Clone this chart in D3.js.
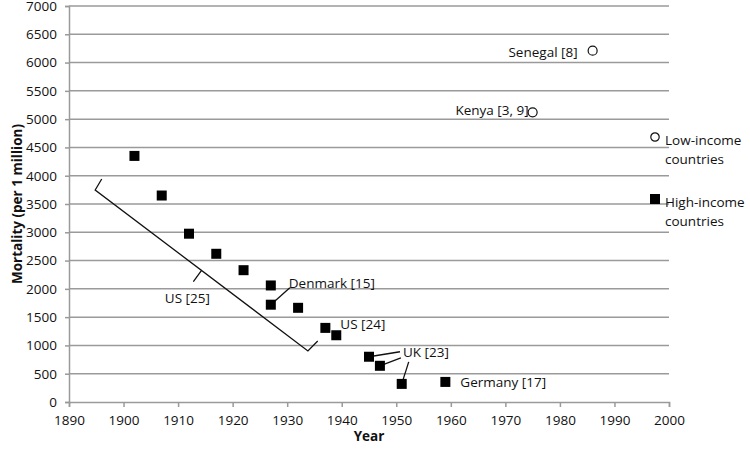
<!DOCTYPE html>
<html>
<head>
<meta charset="utf-8">
<script src="https://cdn.jsdelivr.net/npm/d3@7"></script>
<style>
  html, body { margin: 0; padding: 0; background: #fff; }
  svg text { font-family: "Open Sans", "Liberation Sans", sans-serif; fill: #111; }
</style>
</head>
<body>
<svg id="chart" width="750" height="453"></svg>
<script>
// ---- Data ----
const highYears  = [1902, 1907, 1912, 1917, 1922, 1927, 1927, 1932, 1937, 1939, 1945, 1947, 1951, 1959];
const highValues = [4350, 3650, 2975, 2620, 2330, 2060, 1720, 1665, 1310, 1180, 800, 640, 320, 355];
const lowYears   = [1975, 1986];
const lowValues  = [5120, 6210];
const xTicks = [1890, 1900, 1910, 1920, 1930, 1940, 1950, 1960, 1970, 1980, 1990, 2000];
const yTicks = [0, 500, 1000, 1500, 2000, 2500, 3000, 3500, 4000, 4500, 5000, 5500, 6000, 6500, 7000];
const legendLabels = [["Low-income", "countries"], ["High-income", "countries"]];
// bracket for US [25] (year, value)
const bracketYears  = [1896.0, 1894.8, 1914.3, 1912.8, 1914.3, 1933.8, 1935.6];
const bracketValues = [3942, 3748, 2325, 2127, 2325, 902, 1078];

(function () {
const svg = d3.select("#chart");
const pl = 69, pr = 669, pt = 6, pb = 402;
const x = d3.scaleLinear().domain([1890, 2000]).range([pl, pr]);
const y = d3.scaleLinear().domain([0, 7000]).range([pb, pt]);
const gridColor = "#9a9a9a";
const fs = 13.5;

// gridlines
svg.append("g").selectAll("line").data(yTicks.filter(v => v > 0)).join("line")
  .attr("x1", pl).attr("x2", pr)
  .attr("y1", d => y(d)).attr("y2", d => y(d))
  .attr("stroke", gridColor).attr("stroke-width", 1.5);

// y axis
const yAxis = svg.append("g").attr("transform", `translate(${pl},0)`)
  .call(d3.axisLeft(y).tickValues(yTicks).tickSize(4).tickPadding(8).tickFormat(d3.format("d")));
yAxis.select(".domain").attr("stroke", gridColor).attr("stroke-width", 1.5);
yAxis.selectAll(".tick line").attr("stroke", gridColor).attr("stroke-width", 1.5);
yAxis.selectAll("text").attr("font-size", fs).attr("font-family", "Open Sans").attr("fill", "#111");

// x axis
const xAxis = svg.append("g").attr("transform", `translate(0,${pb})`)
  .call(d3.axisBottom(x).tickValues(xTicks).tickSize(5).tickPadding(8).tickFormat(d3.format("d")));
xAxis.select(".domain").attr("stroke", gridColor).attr("stroke-width", 1.5);
xAxis.selectAll(".tick line").attr("stroke", gridColor).attr("stroke-width", 1.5);
xAxis.selectAll("text").attr("font-size", fs).attr("font-family", "Open Sans").attr("fill", "#111");

// axis titles
svg.append("text").attr("x", (pl + pr) / 2).attr("y", 441).attr("text-anchor", "middle")
  .attr("font-size", fs).attr("font-weight", "bold").text("Year");
svg.append("text").attr("transform", `translate(22,${(pt + pb) / 2}) rotate(-90)`)
  .attr("text-anchor", "middle").attr("font-size", fs).attr("font-weight", "bold")
  .text("Mortality (per 1 million)");

// bracket
const bracketPts = bracketYears.map((yr, i) => [x(yr), y(bracketValues[i])]);
svg.append("path").attr("d", d3.line()(bracketPts))
  .attr("fill", "none").attr("stroke", "#111").attr("stroke-width", 1.3);

// leader lines
const high = highYears.map((yr, i) => ({ px: x(yr), py: y(highValues[i]) }));
const leaders = [
  [high[6], 19, -17],   // Denmark
  [high[10], 31, -5],   // UK
  [high[11], 21, -8],   // UK
  [high[12], 7, -22]    // UK
];
svg.append("g").selectAll("line").data(leaders).join("line")
  .attr("x1", d => d[0].px).attr("y1", d => d[0].py)
  .attr("x2", d => d[0].px + d[1]).attr("y2", d => d[0].py + d[2])
  .attr("stroke", "#111").attr("stroke-width", 1.3);

// high-income squares
const sq = 10;
svg.append("g").selectAll("rect").data(high).join("rect")
  .attr("x", d => d.px - sq / 2).attr("y", d => d.py - sq / 2)
  .attr("width", sq).attr("height", sq).attr("fill", "#000");

// low-income circles
svg.append("g").selectAll("circle").data(lowYears.map((yr, i) => [x(yr), y(lowValues[i])])).join("circle")
  .attr("cx", d => d[0]).attr("cy", d => d[1]).attr("r", 4.5)
  .attr("fill", "#fff").attr("stroke", "#111").attr("stroke-width", 1.2);

// point labels
const low = lowYears.map((yr, i) => ({ px: x(yr), py: y(lowValues[i]) }));
const labels = [
  { t: "Senegal [8]", p: low[1], dx: -15, dy: 6, a: "end" },
  { t: "Kenya [3, 9]", p: low[0], dx: -4, dy: 3, a: "end" },
  { t: "Denmark [15]", p: high[6], dx: 18, dy: -17, a: "start" },
  { t: "US [24]", p: high[8], dx: 15, dy: 1, a: "start" },
  { t: "UK [23]", p: high[10], dx: 34, dy: 0, a: "start" },
  { t: "Germany [17]", p: high[13], dx: 15, dy: 5, a: "start" },
  { t: "US [25]", p: { px: bracketPts[3][0], py: bracketPts[3][1] }, dx: -6, dy: 21, a: "middle" }
];
svg.append("g").selectAll("text").data(labels).join("text")
  .attr("x", d => d.p.px + d.dx).attr("y", d => d.p.py + d.dy)
  .attr("text-anchor", d => d.a).attr("font-size", fs).text(d => d.t);

// legend
const lg = svg.append("g");
const lowItem = lg.append("g").attr("transform", "translate(655,137)");
lowItem.append("circle").attr("r", 4.2).attr("fill", "#fff").attr("stroke", "#111").attr("stroke-width", 1.2);
const highItem = lg.append("g").attr("transform", "translate(655,199)");
highItem.append("rect").attr("x", -5).attr("y", -5).attr("width", 10).attr("height", 10).attr("fill", "#000");
[lowItem, highItem].forEach((g, i) => {
  g.selectAll("text").data(legendLabels[i]).join("text")
    .attr("x", 10).attr("y", (d, j) => 8 + j * 19)
    .attr("font-size", fs).text(d => d);
});
})();
</script>
</body>
</html>
